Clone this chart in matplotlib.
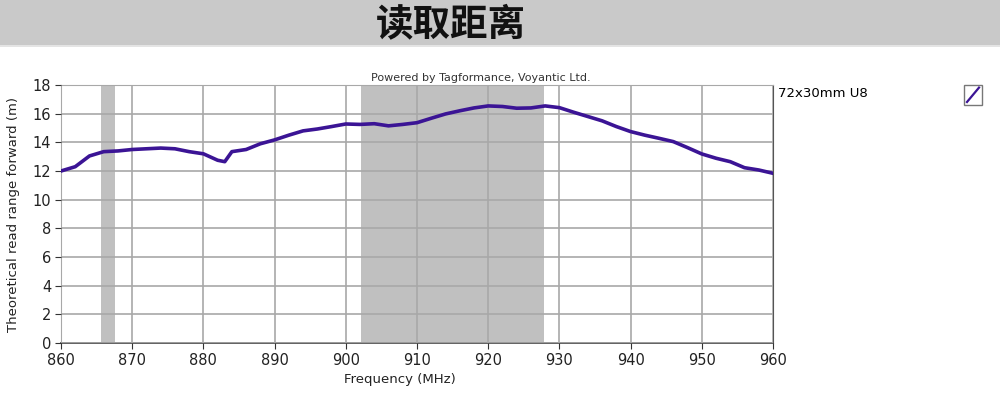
import matplotlib.pyplot as plt
from matplotlib.patches import Rectangle
from matplotlib.lines import Line2D

plt.rcParams['font.family'] = ['DejaVu Sans', 'Noto Sans CJK SC']

freq = [860, 862, 864, 866, 868, 870, 872, 874, 876, 878, 880, 882, 883, 884,
        886, 888, 890, 892, 894, 896, 898, 900, 902, 904, 906, 908, 910, 912,
        914, 916, 918, 920, 922, 924, 926, 928, 930, 932, 934, 936, 938, 940,
        942, 944, 946, 948, 950, 952, 954, 956, 958, 960]
read_range = [12.0, 12.3, 13.05, 13.35, 13.4, 13.5, 13.55, 13.6, 13.55, 13.35,
              13.2, 12.75, 12.65, 13.35, 13.5, 13.9, 14.17, 14.5, 14.8, 14.93,
              15.1, 15.28, 15.25, 15.3, 15.15, 15.25, 15.37, 15.68, 15.98, 16.2,
              16.4, 16.54, 16.5, 16.38, 16.4, 16.54, 16.42, 16.1, 15.8, 15.5,
              15.1, 14.75, 14.5, 14.28, 14.05, 13.63, 13.19, 12.89, 12.65, 12.23,
              12.07, 11.84]
bands = [(865.6, 867.6), (902.1, 927.8)]
series_name = "72x30mm U8"

fig = plt.figure(figsize=(10, 4), dpi=100)

# grey header band with the title
fig.patches.append(Rectangle((0, 0.8875), 1, 0.1125, transform=fig.transFigure,
                             facecolor='#c9c9c9', edgecolor='none', zorder=0))
fig.patches.append(Rectangle((0, 0.882), 1, 0.006, transform=fig.transFigure,
                             facecolor='#e4e4e4', edgecolor='none', zorder=0))
fig.text(0.451, 0.94, "读取距离", ha='center', va='center', fontsize=27,
         fontweight='heavy', family=['Noto Sans CJK SC'], color='#111111')

ax = fig.add_axes([0.061, 0.1425, 0.712, 0.645])
for lo, hi in bands:
    ax.axvspan(lo, hi, color='#c0c0c0', lw=0, zorder=1)
ax.plot(freq, read_range, color='#3b1495', lw=2.6, zorder=3)

ax.set_xlim(860, 960)
ax.set_ylim(0, 18)
ax.set_xticks(range(860, 961, 10))
ax.set_yticks(range(0, 19, 2))
ax.grid(True, color='#a8a8a8', lw=1.2, zorder=2)
ax.set_axisbelow(False)
for line in ax.get_xgridlines() + ax.get_ygridlines():
    line.set_zorder(2)
ax.tick_params(labelsize=10.5, length=4, color='#333333', labelcolor='#222222', pad=3)
for s in ['left', 'top']:
    ax.spines[s].set_color('#a8a8a8')
ax.spines['bottom'].set_color('#555555')
ax.spines['right'].set_color('#555555')
ax.spines['bottom'].set_linewidth(1.3)

ax.set_xlabel("Frequency (MHz)", fontsize=9.5, color='#222222')
ax.xaxis.set_label_coords(0.476, -0.115)
ax.set_ylabel("Theoretical read range forward (m)", fontsize=9.5, color='#222222')
ax.yaxis.set_label_coords(-0.058, 0.5)

fig.text(0.481, 0.805, "Powered by Tagformance, Voyantic Ltd.", ha='center',
         va='center', fontsize=8, color='#333333')

# legend
fig.text(0.778, 0.767, series_name, ha='left', va='center', fontsize=9.5)
fig.patches.append(Rectangle((0.964, 0.738), 0.018, 0.05, transform=fig.transFigure,
                             facecolor='white', edgecolor='#777777', lw=1))
fig.lines.append(Line2D([0.967, 0.979], [0.745, 0.781], transform=fig.transFigure,
                        color='#3b1495', lw=1.6))

fig.savefig("out.png", dpi=100)
